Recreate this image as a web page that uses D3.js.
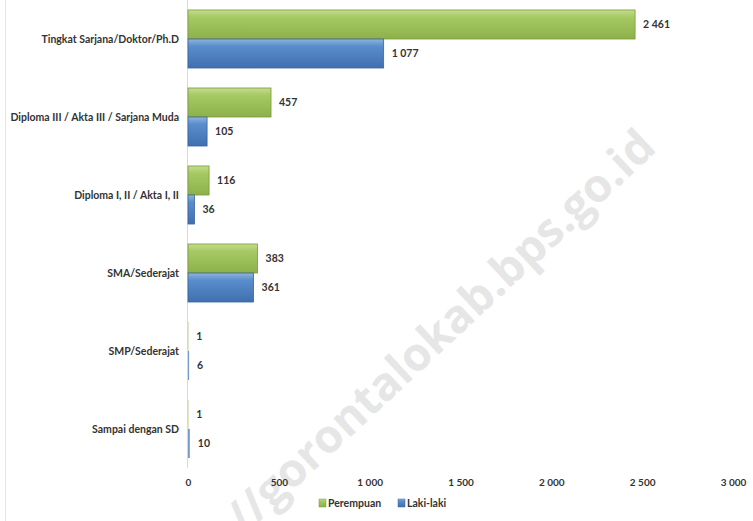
<!DOCTYPE html>
<html><head><meta charset="utf-8">
<script src="https://cdn.jsdelivr.net/npm/d3@7"></script>
<style>
html,body{margin:0;padding:0;background:#fff;}
svg{display:block;font-family:Lato,"Open Sans",sans-serif;}
</style></head>
<body>
<svg id="c" width="753" height="521"></svg>
<script>
const categories = ["Tingkat Sarjana/Doktor/Ph.D","Diploma III / Akta III / Sarjana Muda","Diploma I, II / Akta I, II","SMA/Sederajat","SMP/Sederajat","Sampai dengan SD"];
const perempuan = [2461, 457, 116, 383, 1, 1];
const lakilaki = [1077, 105, 36, 361, 6, 10];
const seriesNames = ["Perempuan","Laki-laki"];
const xTicks = [0,500,1000,1500,2000,2500,3000];

const svg = d3.select("#c");
const W = 753, H = 521;
const m = {left:188, right:20, top:0, bottom:53};
const x = d3.scaleLinear().domain([0,3000]).range([m.left, m.left+545]);
const y = d3.scaleBand().domain(categories).range([m.top, 468]).paddingInner(0.256).paddingOuter(0.128);
const sub = d3.scaleBand().domain(seriesNames).range([0, y.bandwidth()]);

const defs = svg.append("defs");
function grad(id, c1, c2, c3){
  const g = defs.append("linearGradient").attr("id",id).attr("x1",0).attr("y1",0).attr("x2",0).attr("y2",1);
  g.append("stop").attr("offset","0%").attr("stop-color",c1);
  g.append("stop").attr("offset","25%").attr("stop-color",c2);
  g.append("stop").attr("offset","100%").attr("stop-color",c3);
}
grad("gG","#c4dc8c","#a6c964","#8cb04a");
grad("gB","#8fb3e0","#5a8dcc","#3f6fae");
const colors = {"Perempuan":{fill:"url(#gG)",stroke:"#7a9a3c",solid:"#9bbb59"},"Laki-laki":{fill:"url(#gB)",stroke:"#3a679e",solid:"#4f81bd"}};

// left border line
svg.append("line").attr("x1",5.5).attr("x2",5.5).attr("y1",0).attr("y2",H).attr("stroke","#e4e4e4");

// watermark
svg.append("text").attr("transform","translate(658,150) rotate(-43)")
  .attr("text-anchor","end")
  .attr("font-family","'Open Sans',Lato,sans-serif").attr("font-weight","bold").attr("font-size",46)
  .attr("fill","#e6e6e6").text("//gorontalokab.bps.go.id");

// axis line
svg.append("line").attr("x1",m.left-0.5).attr("x2",m.left-0.5).attr("y1",0).attr("y2",468).attr("stroke","#d9d9d9");

const data = categories.map((c,i)=>({cat:c, vals:[{s:"Perempuan",v:perempuan[i]},{s:"Laki-laki",v:lakilaki[i]}]}));
const grp = svg.append("g").selectAll("g").data(data).join("g").attr("transform",d=>`translate(0,${y(d.cat)})`);
grp.selectAll("rect").data(d=>d.vals).join("rect")
  .attr("x",x(0)).attr("y",d=>sub(d.s)).attr("height",sub.bandwidth())
  .attr("width",d=>Math.max(1, x(d.v)-x(0)))
  .attr("fill",d=>d.v<20? colors[d.s].solid : colors[d.s].fill)
  .attr("stroke",d=>d.v<20? "none" : colors[d.s].stroke).attr("stroke-width",0.8)
  .attr("opacity",d=>d.v<5?0.35:(d.v<20?0.8:1));
grp.selectAll("text").data(d=>d.vals).join("text")
  .attr("x",d=>x(d.v)+8).attr("y",d=>sub(d.s)+sub.bandwidth()/2).attr("dy","0.35em")
  .attr("font-size",10.5).attr("font-weight","bold").attr("fill","#333")
  .text(d=>d3.format(",")(d.v).replace(/,/g," "));

// category labels
svg.append("g").selectAll("text").data(categories).join("text")
  .attr("x",179).attr("y",d=>y(d)+y.bandwidth()/2).attr("dy","0.35em").attr("text-anchor","end")
  .attr("font-size",10.5).attr("font-weight","bold").attr("fill","#333").text(d=>d);

// x axis
const xa = svg.append("g").attr("transform","translate(0,482)")
  .call(d3.axisBottom(x).tickValues(xTicks).tickSize(0).tickPadding(0).tickFormat(d=>d3.format(",")(d).replace(/,/g," ")));
xa.select(".domain").remove();
xa.selectAll("text").attr("dy","0.35em").attr("font-size",10).attr("font-weight","bold").attr("fill","#333").attr("font-family","Lato,sans-serif");

// legend
const lg = svg.append("g").attr("transform","translate(319,503)");
const items = [{s:"Perempuan",x:0},{s:"Laki-laki",x:79}];
items.forEach(it=>{
  lg.append("rect").attr("x",it.x).attr("y",-4).attr("width",7).attr("height",8).attr("fill",colors[it.s].fill).attr("stroke",colors[it.s].stroke).attr("stroke-width",0.5);
  lg.append("text").attr("x",it.x+9).attr("y",0).attr("dy","0.35em").attr("font-size",10.5).attr("font-weight","bold").attr("fill","#333").text(it.s);
});
</script>
</body></html>
